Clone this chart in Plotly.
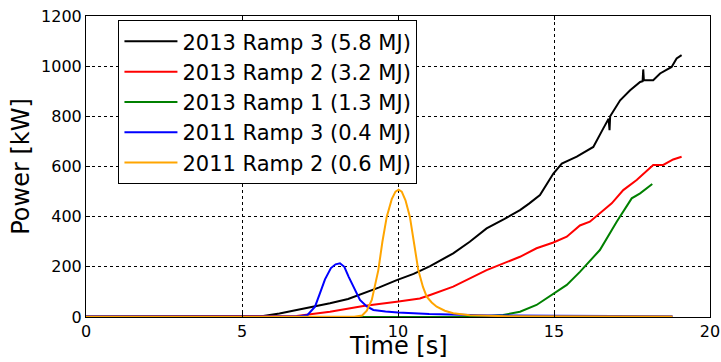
import plotly.graph_objects as go

# ---- data ----
t_2013_r3 = [0, 5.0, 5.68, 6.2, 6.75, 7.3, 7.82, 8.4, 8.89, 9.4, 9.96, 10.5, 11.03, 11.77, 12.3,
             12.84, 13.4, 13.91, 14.2, 14.55, 14.98, 15.25, 15.73, 16.26, 16.58, 16.75, 16.78,
             16.80, 17.12, 17.44, 17.76, 17.84, 17.86, 17.88, 18.18, 18.4, 18.77, 18.93, 19.09]
p_2013_r3 = [2, 2, 4, 14, 28, 40, 55, 72, 94, 118, 147, 172, 203, 254, 300,
             353, 390, 426, 452, 486, 572, 612, 639, 678, 752, 790, 745,
             800, 864, 904, 937, 940, 987, 945, 944, 971, 997, 1031, 1044]

t_2013_r2 = [0, 6.0, 6.75, 7.82, 8.89, 9.96, 10.7, 11.03, 11.77, 12.84, 13.91, 14.44, 14.98,
             15.41, 15.83, 16.15, 16.58, 16.85, 17.22, 17.65, 18.18, 18.5, 18.82, 19.09]
p_2013_r2 = [1, 1, 4, 21, 44, 61, 74, 88, 121, 187, 240, 274, 297,
             320, 365, 380, 426, 453, 506, 546, 606, 606, 628, 639]

t_2013_r1 = [0, 12.5, 13.37, 13.91, 14.44, 14.98, 15.41, 15.83, 16.47, 17.01, 17.49, 17.76, 18.15]
p_2013_r1 = [0, 1, 8, 21, 48, 94, 128, 180, 267, 380, 473, 493, 530]

t_2011_r3 = [0, 6.8, 7.1, 7.34, 7.5, 7.66, 7.85, 8.0, 8.14, 8.28, 8.42, 8.57, 8.78, 9.0, 9.21,
             9.6, 10.0, 11.0, 12.0, 13.0, 15.0, 18.8]
p_2011_r3 = [2, 2, 8, 41, 95, 150, 195, 210, 214, 200, 160, 121, 68, 42, 28,
             22, 18, 12, 8, 6, 5, 3]

t_2011_r2 = [0, 8.6, 8.85, 9.0, 9.16, 9.37, 9.5, 9.64, 9.8, 9.92, 10.02, 10.12, 10.24, 10.38,
             10.52, 10.65, 10.8, 10.92, 11.08, 11.24, 11.5, 11.77, 12.3, 13.5, 18.8]
p_2011_r2 = [1, 1, 6, 25, 68, 187, 300, 400, 470, 500, 508, 500, 465, 400,
             290, 187, 120, 81, 58, 41, 25, 15, 7, 3, 2]

series = [
    ("2013 Ramp 3 (5.8 MJ)", t_2013_r3, p_2013_r3, "black"),
    ("2013 Ramp 2 (3.2 MJ)", t_2013_r2, p_2013_r2, "red"),
    ("2013 Ramp 1 (1.3 MJ)", t_2013_r1, p_2013_r1, "green"),
    ("2011 Ramp 3 (0.4 MJ)", t_2011_r3, p_2011_r3, "blue"),
    ("2011 Ramp 2 (0.6 MJ)", t_2011_r2, p_2011_r2, "orange"),
]

x_ticks = [0, 5, 10, 15, 20]
y_ticks = [0, 200, 400, 600, 800, 1000, 1200]
x_title = "Time [s]"
y_title = "Power [kW]"

FONT = "DejaVu Sans"

fig = go.Figure()
for i, (name, t, p, c) in enumerate(series):
    fig.add_trace(go.Scatter(x=t, y=p, mode="lines", name=name,
                             line=dict(color=c, width=2)))

axis_common = dict(
    showline=True, linecolor="black", linewidth=1, mirror="ticks",
    ticks="inside", ticklen=4, tickcolor="black", automargin=False,
    showgrid=True, gridcolor="black", griddash="dot", gridwidth=1,
    zeroline=False, tickfont=dict(family=FONT, size=16, color="black"),
)

fig.update_layout(
    width=721, height=362,
    margin=dict(l=86, r=11, t=16, b=45),
    paper_bgcolor="white", plot_bgcolor="white",
    font=dict(family=FONT, color="black"),
    xaxis=dict(range=[0, 20], tickvals=x_ticks, ticktext=[str(v) for v in x_ticks],
               **axis_common),
    yaxis=dict(range=[0, 1200], tickvals=y_ticks, ticktext=[str(v) for v in y_ticks],
               title=dict(text=y_title, font=dict(family=FONT, size=24), standoff=4),
               **axis_common),
    legend=dict(x=0.052, y=0.986, xanchor="left", yanchor="top",
                bgcolor="white", bordercolor="black", borderwidth=1,
                font=dict(family=FONT, size=21), traceorder="normal",
                itemwidth=53),
    showlegend=True,
)

fig.add_annotation(text=x_title, xref="paper", yref="paper", x=0.5, y=0,
                   xanchor="center", yanchor="bottom", yshift=-45, showarrow=False,
                   font=dict(family=FONT, size=24, color="black"))

fig.write_html("out.html")
